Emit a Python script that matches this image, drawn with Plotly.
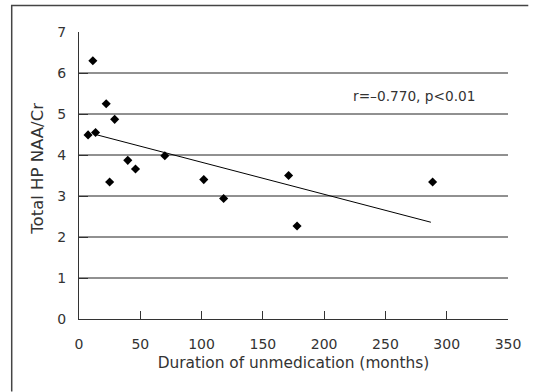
import plotly.graph_objects as go

# Data
duration_months = [7.4, 11.3, 13.5, 22.2, 29.1, 25.0, 39.8, 46.1, 70.0, 101.8, 118.0, 171.0, 177.9, 288.5]
naa_cr = [4.49, 6.30, 4.55, 5.25, 4.87, 3.34, 3.87, 3.66, 3.98, 3.40, 2.94, 3.50, 2.27, 3.34]

trend_x = [13.5, 287.1]
trend_y = [4.50, 2.36]

x_ticks = [0, 50, 100, 150, 200, 250, 300, 350]
y_ticks = [0, 1, 2, 3, 4, 5, 6, 7]
grid_values = [1, 2, 3, 4, 5, 6]

annotation_text = "r=\u20130.770, p<0.01"
x_title = "Duration of unmedication (months)"
y_title = "Total HP NAA/Cr"

FONT = "DejaVu Sans"
TXT = "#333333"

fig = go.Figure()

fig.add_trace(go.Scatter(
    x=trend_x, y=trend_y, mode="lines",
    line=dict(color="black", width=1), showlegend=False, hoverinfo="skip"))

fig.add_trace(go.Scatter(
    x=duration_months, y=naa_cr, mode="markers",
    marker=dict(symbol="diamond", size=7, color="black"),
    showlegend=False))

L, R, T, B = 79, 20.5, 32, 72.7
W, H = 533, 392
pw = W - L - R
ph = H - T - B

shapes = []
for g in grid_values:
    shapes.append(dict(type="line", xref="paper", x0=0, x1=1, yref="y", y0=g, y1=g,
                       line=dict(color="#222222", width=1), layer="below"))

# outer frame: only its left and top edges fall inside the picture
fx0 = (11 - L) / pw
fx1 = (W - L) / pw
fy_top = (H - B - 5.5) / ph
fy_bot = (H - B - H) / ph
shapes.append(dict(type="path", xref="paper", yref="paper",
                   path=f"M {fx0},{fy_bot} L {fx0},{fy_top} L {fx1},{fy_top}",
                   line=dict(color="#444444", width=1.5)))

fig.update_layout(
    width=W, height=H,
    margin=dict(l=L, r=R, t=T, b=B),
    paper_bgcolor="white", plot_bgcolor="white",
    font=dict(family=FONT, size=14, color=TXT),
    shapes=shapes,
    annotations=[
        dict(text=annotation_text, x=(354 - L) / pw, xref="paper", xanchor="left",
             y=(H - B - 96.5) / ph, yref="paper", yanchor="middle", showarrow=False,
             font=dict(family=FONT, size=13.7, color=TXT)),
        dict(text=y_title, x=(37.4 - L) / pw, xref="paper", xanchor="center",
             y=(H - B - 169) / ph, yref="paper", yanchor="middle", textangle=-90,
             showarrow=False, font=dict(family=FONT, size=16.5, color=TXT)),
    ],
)

fig.update_xaxes(
    range=[0, 350], tickvals=x_ticks, ticktext=[str(v) for v in x_ticks],
    showgrid=False, zeroline=False, showline=True, linecolor="#333333", linewidth=1,
    ticks="inside", ticklen=8, tickcolor="#333333", tickwidth=1,
    ticklabelstandoff=12, tickfont=dict(size=14),
    title=dict(text=x_title, standoff=6, font=dict(family=FONT, size=15.4, color=TXT)),
)
fig.update_yaxes(
    range=[0, 7], tickvals=y_ticks, ticktext=[str(v) for v in y_ticks],
    showgrid=False, zeroline=False, showline=True, linecolor="#333333", linewidth=1,
    ticks="inside", ticklen=9, tickcolor="#333333", tickwidth=1,
    ticklabelstandoff=9, tickfont=dict(size=14),
)

fig.write_html(
    "out.html",
    config={"displayModeBar": False},
    post_script=(
        "document.documentElement.style.margin='0';"
        "document.documentElement.style.padding='0';"
        "document.documentElement.style.overflow='hidden';"
        "document.body.style.margin='0';document.body.style.padding='0';"
        "document.body.style.overflow='hidden';"
    ),
)
